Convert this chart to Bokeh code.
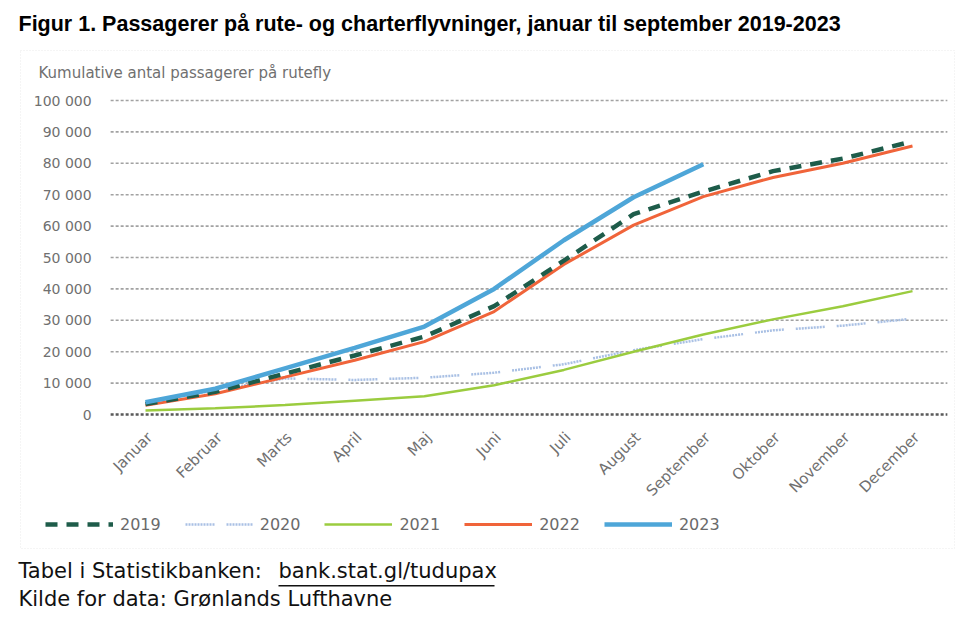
import math
from bokeh.plotting import figure
from bokeh.models import Range1d, Label, Legend, LegendItem, BoxAnnotation
from bokeh.core.properties import value
from bokeh.embed import file_html
from bokeh.resources import INLINE

months = ["Januar", "Februar", "Marts", "April", "Maj", "Juni", "Juli",
          "August", "September", "Oktober", "November", "December"]
years = ["2019", "2020", "2021", "2022", "2023"]
y2019 = [3300, 7200, 13000, 18800, 24800, 34500, 49000, 63800, 71000, 77500, 81500, 87000]
y2020 = [3800, 7700, 11500, 11000, 11700, 13300, 16000, 20500, 24000, 26800, 28300, 30500]
y2021 = [1300, 2000, 3000, 4400, 5800, 9300, 14200, 20000, 25500, 30300, 34500, 39300]
y2022 = [2900, 6600, 11900, 17300, 23200, 32800, 47800, 60300, 69400, 75500, 80000, 85500]
y2023 = [3900, 8200, 14700, 21200, 28000, 40000, 55500, 69200, 79700]
y_ticks = [0, 10000, 20000, 30000, 40000, 50000, 60000, 70000, 80000, 90000, 100000]
y_tick_labels = ["0", "10 000", "20 000", "30 000", "40 000", "50 000",
                 "60 000", "70 000", "80 000", "90 000", "100 000"]

title = "Figur 1. Passagerer på rute- og charterflyvninger, januar til september 2019-2023"
axis_title = "Kumulative antal passagerer på rutefly"
foot1a = "Tabel i Statistikbanken: "
foot1b = "bank.stat.gl/tudupax"
foot2 = "Kilde for data: Grønlands Lufthavne"

# ---- layout constants (canvas pixels)
W, H = 956, 620
X_FIRST, X_LAST = 145, 912      # canvas x of first / last month
Y_ZERO, Y_TOP = 414, 100        # canvas y of 0 and of 100 000
n = len(months)
ux = (X_LAST - X_FIRST) / (n - 1)
uy = (Y_ZERO - Y_TOP) / 100000
x_range = Range1d(-X_FIRST / ux, (n - 1) + (W - X_LAST) / ux)
y_range = Range1d(-(H - Y_ZERO) / uy, 100000 + Y_TOP / uy)

idx = list(range(n))
GRAY = "#707070"
FONT = "DejaVu Sans"

p = figure(width=W, height=H, x_range=x_range, y_range=y_range,
           output_backend="svg", toolbar_location=None, min_border=0,
           x_axis_location=None, y_axis_location=None)
p.xgrid.visible = False
p.ygrid.visible = False
p.outline_line_color = None

# horizontal gridlines
grid_left, grid_right = -0.5, n - 0.5
p.segment(x0=[grid_left] * (len(y_ticks) - 1), x1=[grid_right] * (len(y_ticks) - 1),
          y0=y_ticks[1:], y1=y_ticks[1:], line_color="#a2a2a2", line_width=1.6, line_dash="3 2")
p.segment(x0=[grid_left], x1=[grid_right], y0=y_ticks[:1], y1=y_ticks[:1],
          line_color="#5a5a5a", line_width=2.6, line_dash="3 2")

# y tick labels
p.text(x=[grid_left] * len(y_ticks), y=y_ticks, text=y_tick_labels, x_offset=-19,
       text_align="right", text_baseline="middle", text_font=value(FONT),
       text_font_size=value("14px"), text_color=GRAY)
# x tick labels
p.text(x=idx, y=[0] * n, text=months, angle=math.pi / 4, x_offset=-2, y_offset=14,
       text_align="right", text_baseline="top", text_font=value(FONT),
       text_font_size=value("15px"), text_color=GRAY)

dotted = "2 1 2 1 2 1 2 1 2 1 2 1 2 1 2 1 2 1 2 12"
r2020 = p.line(idx, y2020, line_color="#a9c0e4", line_width=2.5, line_dash=dotted)
r2021 = p.line(idx, y2021, line_color="#9bcc3f", line_width=2.5)
r2022 = p.line(idx, y2022, line_color="#f0643a", line_width=3)
r2019 = p.line(idx, y2019, line_color="#1e5c4a", line_width=4.5, line_dash="12 9")
r2023 = p.line(idx[:len(y2023)], y2023, line_color="#4ea6d8", line_width=4.5)

legend = Legend(items=[LegendItem(label=y, renderers=[r]) for y, r in
                       zip(years, [r2019, r2020, r2021, r2022, r2023])],
                orientation="horizontal", location=(45, H - 524 - 10),
                glyph_width=68, glyph_height=20, label_standoff=7, spacing=24,
                label_text_font=FONT, label_text_font_size="16px",
                label_text_color="#6a6a6a", background_fill_alpha=0,
                border_line_color=None, padding=0, margin=0)
p.add_layout(legend)

# outer dotted box
p.add_layout(BoxAnnotation(left=20, right=954, top=H - 50, bottom=H - 548,
                           left_units="screen", right_units="screen",
                           top_units="screen", bottom_units="screen",
                           fill_alpha=0, line_color="#bdbdbd", line_width=1, line_dash="1 2"))


def lab(text, cx, cy, font, size, color, bold=False):
    p.add_layout(Label(x=cx, y=H - cy, x_units="screen", y_units="screen", text=text,
                       text_font=font, text_font_size=size, text_color=color,
                       text_font_style="bold" if bold else "normal",
                       text_baseline="middle", text_align="left"))


lab(title, 18, 23, "Liberation Sans", "21.5px", "#000000", bold=True)
lab(axis_title, 38, 72, FONT, "15px", GRAY)
lab(foot1a, 18, 570, FONT, "21px", "#111111")
lab(foot1b, 278, 570, FONT, "21px", "#111111")
lab(foot2, 18, 598, FONT, "21px", "#111111")
p.add_layout(BoxAnnotation(left=278, right=494, top=H - 584.5, bottom=H - 586,
                           left_units="screen", right_units="screen",
                           top_units="screen", bottom_units="screen",
                           fill_color="#111111", fill_alpha=1, line_color=None))

open("out.html", "w").write(file_html(p, INLINE))
